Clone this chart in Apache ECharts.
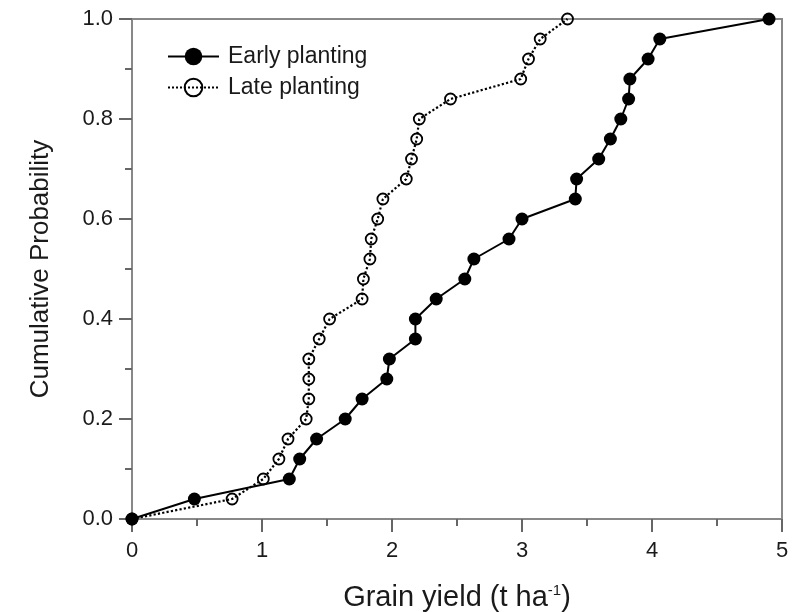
<!DOCTYPE html>
<html>
<head>
<meta charset="utf-8">
<script src="https://cdn.jsdelivr.net/npm/echarts@6/dist/echarts.min.js"></script>
<style>
  html, body { margin: 0; padding: 0; background: #fff; }
  #chart { width: 800px; height: 612px; }
</style>
</head>
<body>
<div id="chart"></div>
<script>
// cumulative probability steps (25 plantings, each 0.04)
const probability = [0, 0.04, 0.08, 0.12, 0.16, 0.20, 0.24, 0.28, 0.32, 0.36, 0.40, 0.44, 0.48,
    0.52, 0.56, 0.60, 0.64, 0.68, 0.72, 0.76, 0.80, 0.84, 0.88, 0.92, 0.96, 1.00];

// grain yield, t/ha
const earlyYield = [0, 0.48, 1.21, 1.29, 1.42, 1.64, 1.77, 1.96, 1.98, 2.18, 2.18, 2.34, 2.56,
    2.63, 2.90, 3.00, 3.41, 3.42, 3.59, 3.68, 3.76, 3.82, 3.83, 3.97, 4.06, 4.90];
const lateYield = [0, 0.77, 1.01, 1.13, 1.20, 1.34, 1.36, 1.36, 1.36, 1.44, 1.52, 1.77, 1.78,
    1.83, 1.84, 1.89, 1.93, 2.11, 2.15, 2.19, 2.21, 2.45, 2.99, 3.05, 3.14, 3.35];

const xTicks = [0, 1, 2, 3, 4, 5];
const yTicks = [0, 0.2, 0.4, 0.6, 0.8, 1.0];

function pairs(xs, ys) {
    return xs.map(function (x, i) { return [x, ys[i]]; });
}

const font = 'Liberation Sans, Arial, Helvetica, sans-serif';
const axisGray = '#888';
const tickGray = '#666';
const textColor = '#1a1a1a';

let chart = echarts.init(document.getElementById('chart'));

chart.setOption({
    animation: false,
    textStyle: { fontFamily: font },
    grid: {
        left: 132, right: 18, top: 19, bottom: 93,
        outerBoundsMode: 'none',
        show: true, borderColor: axisGray, borderWidth: 2
    },
    legend: {
        orient: 'vertical',
        left: 162,
        top: 40,
        itemWidth: 51,
        itemHeight: 22,
        itemGap: 8,
        textStyle: { fontSize: 23, color: textColor, fontFamily: font, padding: [0, 0, 0, 4] },
        data: ['Early planting', 'Late planting']
    },
    xAxis: {
        type: 'value',
        min: xTicks[0],
        max: xTicks[xTicks.length - 1],
        interval: 1,
        name: 'Grain yield (t ha{sup|-1})',
        nameLocation: 'middle',
        nameGap: 64,
        nameTextStyle: {
            fontSize: 29, color: textColor, fontFamily: font,
            rich: { sup: { fontSize: 15, verticalAlign: 'top', padding: [0, 0, 15, 0], color: textColor } }
        },
        axisLine: { lineStyle: { color: axisGray, width: 2 } },
        axisTick: { show: true, inside: false, length: 13, lineStyle: { color: tickGray, width: 2 } },
        minorTick: { show: true, splitNumber: 2, length: 7, lineStyle: { color: tickGray, width: 2 } },
        axisLabel: { fontSize: 22, color: textColor, margin: 21 },
        splitLine: { show: false }
    },
    yAxis: {
        type: 'value',
        min: yTicks[0],
        max: yTicks[yTicks.length - 1],
        interval: 0.2,
        name: 'Cumulative Probability',
        nameLocation: 'middle',
        nameGap: 78,
        nameTextStyle: { fontSize: 26, color: textColor, fontFamily: font },
        axisLine: { lineStyle: { color: axisGray, width: 2 } },
        axisTick: { show: true, inside: false, length: 13, lineStyle: { color: tickGray, width: 2 } },
        minorTick: { show: true, splitNumber: 2, length: 7, lineStyle: { color: tickGray, width: 2 } },
        axisLabel: {
            fontSize: 22, color: textColor, margin: 19,
            formatter: function (v) { return v.toFixed(1); }
        },
        splitLine: { show: false }
    },
    series: [
        {
            name: 'Early planting',
            type: 'line',
            data: pairs(earlyYield, probability),
            symbol: 'circle',
            symbolSize: 13,
            itemStyle: { color: '#000' },
            lineStyle: { color: '#000', width: 2 },
            z: 3
        },
        {
            name: 'Late planting',
            type: 'line',
            data: pairs(lateYield, probability),
            symbol: 'circle',
            symbolSize: 11,
            itemStyle: { color: 'rgba(255,255,255,0)', borderColor: '#000', borderWidth: 1.8 },
            lineStyle: { color: '#000', width: 2.2, type: 'dotted' },
            z: 2
        }
    ]
});
</script>
</body>
</html>
